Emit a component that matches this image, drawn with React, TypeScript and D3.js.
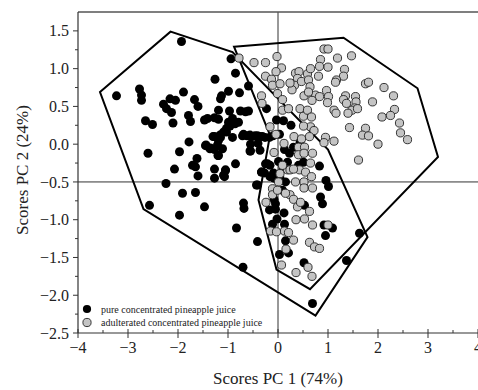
import * as d3 from 'd3';

type Pt = [number, number];

// PC1 / PC2 scores
const pureScores: Pt[] = [
  [-1.93, 1.36], [-3.23, 0.64], [-2.77, 0.73], [-2.73, 0.65], [-2.73, 0.58], [-2.65, 0.31],
  [-2.51, 0.26], [-2.6, -0.12], [-2.57, -0.81], [-2.24, -0.52], [-2.07, -0.33], [-1.97, -0.1],
  [-1.97, -0.94], [-1.91, -0.65], [-1.78, 0.03], [-2.1, 0.28], [-2.29, 0.53], [-2.23, 0.47],
  [-2.16, 0.6], [-2.13, 0.42], [-2.05, 0.58], [-1.89, 0.69], [-1.79, 0.38], [-1.75, 0.3],
  [-1.67, 0.59], [-1.6, 0.5], [-1.62, -0.19], [-1.71, -0.28], [-1.65, -0.3], [-1.6, -0.42],
  [-1.65, -0.64], [-1.47, -0.83], [-1.47, 0.32], [-1.41, 0.34], [-1.45, -0.02], [-1.35, -0.05],
  [-1.3, 0.1], [-1.27, -0.33], [-1.27, -0.45], [-1.26, 0.86], [-1.19, 0.45], [-1.19, 0.33],
  [-1.19, -0.15], [-1.15, 0.6], [-1.13, 0.64], [-1.15, 0.09], [-1.11, -0.06], [-1.07, -0.43],
  [-1.05, -0.35], [-0.99, 0.7], [-0.97, 0.44], [-0.99, 0.29], [-1.03, 0.16], [-0.91, 0.34],
  [-0.94, 1.13], [-0.85, 0.94], [-0.85, -0.26], [-0.83, -1.11], [-0.77, 0.68], [-0.75, 0.44],
  [-0.71, 0.11], [-0.65, 0.43], [-0.59, 0.77], [-0.62, 0.11], [-0.55, -0.09], [-0.52, 0.1],
  [-0.69, -0.78], [-0.68, -0.85], [-0.7, -1.63], [-0.59, 0.44], [-0.41, 0.11], [-0.4, 0.01],
  [-0.41, -1.29], [-0.41, -0.54], [-0.33, -0.37], [-0.31, 0.1], [-0.23, 0.47], [-0.27, -0.38],
  [-0.21, -0.26], [-0.17, -0.87], [-0.17, 0.09], [-0.03, 0.32], [0.03, 0.13], [-0.11, -1.06],
  [-0.08, -0.73], [-0.05, -0.79], [-0.05, -0.86], [-0.02, -0.99], [0.03, -1.46], [0.01, -0.23],
  [0.1, -0.33], [0.11, 0.31], [0.13, -0.07], [0.15, -0.5], [0.09, -0.61], [0.12, -0.91],
  [0.13, -1.06], [0.15, -1.28], [0.21, -1.44], [0.26, 0.25], [0.31, -0.04], [0.23, -0.12],
  [0.41, -0.28], [0.44, 0.02], [0.51, -0.24], [0.52, -1.57], [0.53, -0.81], [0.69, -2.11],
  [0.83, -0.29], [0.96, -0.48], [0.85, -0.7], [0.89, -0.79], [0.95, -1.21], [1.01, -0.56],
  [0.92, -1.07], [1.09, -1.11], [1.63, -1.18], [1.37, -1.54], [-0.1, 0.11], [0.19, -0.24],
  [-0.09, -0.38], [0.04, -0.45], [-0.16, -0.28], [-1.27, 0.35],
  [-1.44, -0.01], [-1.36, -0.06], [-1.27, -0.07], [-1.21, -0.01], [-1.19, 0.05], [-1.27, 0.1],
  [-1.16, 0.12], [-1.09, 0.16], [-1.03, 0.21], [-0.96, 0.24], [-0.86, 0.27], [-0.79, 0.29],
  [-0.91, 0.09], [-0.69, 0.13], [-0.56, 0.12], [-0.46, 0.11], [-0.36, 0.1], [-0.26, 0.09],
  [-0.55, 0.0], [-0.56, -0.09], [-0.36, -0.08], [-0.33, -0.37], [-0.25, -0.26], [-0.43, -0.54],
  [-0.16, -0.43], [-0.08, -0.45], [-1.09, -0.41], [-1.05, -0.34], [-1.2, -0.15],
];

const adulteratedScores: Pt[] = [
  [-0.78, 1.14], [-0.48, 1.08], [-0.25, 1.08], [-0.02, 1.16], [0.07, 1.01], [-0.04, 0.96],
  [-0.25, 0.9], [-0.13, 0.86], [-0.11, 0.78], [0.04, 0.8], [-0.01, 0.67], [-0.33, 0.64],
  [-0.32, 0.54], [0.09, 0.59], [0.09, 0.45], [0.21, 0.47], [0.35, 0.94], [0.42, 0.96],
  [0.39, 0.87], [0.33, 0.78], [0.28, 0.72], [0.24, 0.81], [0.47, 0.83], [0.59, 0.93],
  [0.65, 1.0], [0.61, 0.85], [0.64, 0.76], [0.81, 0.9], [0.85, 1.12], [0.83, 1.03],
  [0.92, 1.26], [1.0, 1.26], [1.0, 1.02], [1.19, 1.14], [1.47, 1.17], [1.33, 0.99],
  [1.31, 0.9], [1.17, 0.85], [1.15, 0.82], [0.97, 0.71], [1.01, 0.63], [0.75, 0.65],
  [0.83, 0.63], [0.52, 0.64], [0.61, 0.69], [0.68, 0.58], [0.99, 0.55], [1.12, 0.45],
  [1.16, 0.41], [1.35, 0.64], [1.31, 0.59], [1.37, 0.54], [1.55, 0.63], [1.56, 0.56],
  [1.53, 0.48], [1.48, 0.45], [1.59, 0.47], [1.4, 0.41], [1.43, 0.22], [1.75, 0.8],
  [1.81, 0.82], [1.89, 0.56], [2.12, 0.75], [2.31, 0.64], [2.33, 0.46], [2.08, 0.36],
  [2.25, 0.38], [2.43, 0.28], [2.45, 0.15], [2.59, 0.06], [2.0, 0.0], [1.75, 0.21],
  [1.69, 0.12], [1.81, 0.11], [1.61, -0.21], [0.95, 0.09], [1.12, 0.04], [0.92, 0.02],
  [0.65, 0.23], [0.72, 0.18], [0.63, 0.1], [0.51, 0.24], [0.44, 0.47], [0.51, 0.37],
  [0.59, 0.45], [0.67, 0.36], [0.32, 0.1], [0.47, 0.07], [0.41, -0.04], [0.53, -0.04],
  [0.12, 0.01], [-0.08, -0.11], [-0.16, 0.23], [-0.04, 0.13], [0.41, -0.14], [0.52, -0.12],
  [0.69, -0.12], [0.65, -0.25], [0.19, -0.34], [0.09, -0.28], [0.24, -0.34], [0.43, -0.34],
  [0.55, -0.37], [0.67, -0.43], [0.35, -0.5], [0.52, -0.5], [0.52, -0.58], [0.69, -0.58],
  [0.04, -0.39], [0.01, -0.5], [-0.11, -0.59], [-0.11, -0.67], [-0.01, -0.61], [-0.24, -0.77],
  [0.24, -0.67], [0.31, -0.73], [0.39, -0.83], [0.45, -0.77], [0.63, -0.89], [0.36, -1.0],
  [0.53, -0.99], [0.69, -1.07], [1.0, -1.07], [-0.15, -1.15], [-0.03, -1.16], [0.13, -1.15],
  [0.21, -1.17], [0.31, -1.27], [0.16, -1.39], [0.63, -1.3], [0.73, -1.36], [0.83, -1.38],
  [0.07, -1.6], [0.36, -1.7], [0.6, -1.63], [0.68, -1.75], [0.15, -0.65], [0.31, -0.33],
];

// convex hulls drawn around each group
const pureHull: Pt[] = [
  [-3.56, 0.69], [-2.15, 1.49], [-0.91, 1.22], [1.0, -0.07], [1.79, -1.23], [0.75, -2.27], [-2.69, -0.86],
];
const adulteratedHull: Pt[] = [
  [-0.88, 1.29], [1.31, 1.41], [2.79, 0.74], [3.2, -0.17], [0.64, -1.92], [-0.03, -1.66], [-0.39, -0.74], [-0.16, 0.12],
];

const xTicks = [-4, -3, -2, -1, 0, 1, 2, 3, 4];
const yTicks = [-2.5, -2.0, -1.5, -1.0, -0.5, 0.0, 0.5, 1.0, 1.5];
const legendLabels = ['pure concentrated pineapple juice', 'adulterated concentrated pineapple juice'];

const fmt = (v: number, d: number) => v.toFixed(d).replace('-', '\u2212');

export default function App() {
  const width = 478;
  const height = 390;
  const x = d3.scaleLinear().domain([-4, 4]).range([78, 478]);
  const y = d3.scaleLinear().domain([-2.5, 1.75]).range([333, 12]);
  const font = "'Liberation Serif', 'Times New Roman', Times, serif";
  const axis = '#333';

  const line = d3.line<Pt>().x(d => x(d[0])).y(d => y(d[1])).curve(d3.curveLinearClosed);
  const xMinor = d3.range(-3.5, 4, 1);
  const yMinor = d3.range(-2.25, 1.75, 0.5);

  return (
    <svg width={width} height={height} style={{ position: 'absolute', left: 0, top: 0, background: '#fff', fontFamily: font }}>
      {/* reference lines */}
      <line x1={x(0)} x2={x(0)} y1={y(1.75)} y2={y(-2.5)} stroke={axis} strokeWidth={1} />
      <line x1={x(-4)} x2={x(4)} y1={y(-0.5)} y2={y(-0.5)} stroke={axis} strokeWidth={1} />

      {/* hulls */}
      <path d={line(pureHull) || ''} fill="none" stroke="#000" strokeWidth={2} strokeLinejoin="miter" />
      <path d={line(adulteratedHull) || ''} fill="none" stroke="#000" strokeWidth={2} strokeLinejoin="miter" />

      {/* points */}
      {pureScores.map((d, i) => (
        <circle key={'p' + i} cx={x(d[0])} cy={y(d[1])} r={4.5} fill="#000" />
      ))}
      {adulteratedScores.map((d, i) => (
        <circle key={'a' + i} cx={x(d[0])} cy={y(d[1])} r={4.1} fill="#c4c4c4" stroke="#222" strokeWidth={0.9} />
      ))}

      {/* legend */}
      <rect x={74} y={316} width={202} height={16} fill="#fff" />
      {legendLabels.map((t, i) => (
        <g key={t} transform={`translate(87,${309 + i * 13.5})`}>
          <circle r={4.1} fill={i === 0 ? '#000' : '#c4c4c4'} stroke={i === 0 ? 'none' : '#222'} strokeWidth={0.9} />
          <text x={14} y={3.5} fontSize={10} fill="#222">{t}</text>
        </g>
      ))}

      {/* frame */}
      <line x1={x(-4)} x2={x(4)} y1={y(1.75)} y2={y(1.75)} stroke="#555" strokeWidth={1.3} />
      <line x1={x(-4)} x2={x(-4)} y1={y(1.75)} y2={y(-2.5)} stroke={axis} strokeWidth={1.2} />
      <line x1={x(-4)} x2={x(4)} y1={y(-2.5)} y2={y(-2.5)} stroke={axis} strokeWidth={1.2} />

      {/* x axis */}
      {xTicks.map(t => (
        <g key={t}>
          <line x1={x(t)} x2={x(t)} y1={y(-2.5) - 4} y2={y(-2.5) + 5} stroke={axis} />
          <text x={x(t)} y={y(-2.5) + 20} textAnchor="middle" fontSize={16} fill="#222">{fmt(t, 0)}</text>
        </g>
      ))}
      {xMinor.map(t => (
        <line key={t} x1={x(t)} x2={x(t)} y1={y(-2.5) - 3} y2={y(-2.5)} stroke={axis} />
      ))}
      <text x={x(0)} y={384} textAnchor="middle" fontSize={17} fill="#222">Scores PC 1 (74%)</text>

      {/* y axis */}
      {yTicks.map(t => (
        <g key={t}>
          <line x1={x(-4) - 5} x2={x(-4)} y1={y(t)} y2={y(t)} stroke={axis} />
          <text x={x(-4) - 9} y={y(t)} dy="0.35em" textAnchor="end" fontSize={16} fill="#222">{fmt(t, 1)}</text>
        </g>
      ))}
      {yMinor.map(t => (
        <line key={t} x1={x(-4) - 3} x2={x(-4)} y1={y(t)} y2={y(t)} stroke={axis} />
      ))}
      <text
        x={22}
        y={170}
        textAnchor="middle"
        fontSize={17}
        fill="#222"
        transform={`rotate(-90, 22, 170)`}
        dy="0.35em"
      >
        Scores PC 2 (24%)
      </text>
    </svg>
  );
}
